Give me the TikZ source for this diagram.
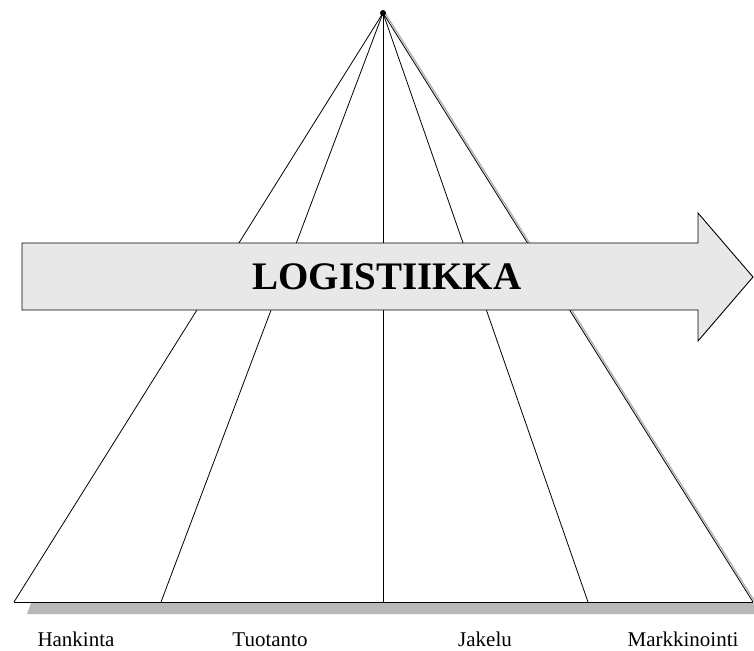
\documentclass[tikz,border=0pt]{standalone}
\usepackage{fontspec}
\setmainfont{Liberation Serif}
\begin{document}
\begin{tikzpicture}
      [
      x=1pt, y=-1pt,
      ray/.style={draw, line width=0.8pt},
      bigarrow/.style={draw, line width=0.9pt, fill=gray!18},
      phase/.style={font=\fontsize{21}{21}\selectfont, anchor=base},
      shade/.style={fill=gray!55}
      ]
      \useasboundingbox (0,0) rectangle (754,650);
      % apex and foot points
      \coordinate (top) at (383,13);
      \coordinate (f1) at (14,602);
      \coordinate (f2) at (161,602);
      \coordinate (f3) at (383,602);
      \coordinate (f4) at (588,602);
      \coordinate (f5) at (753,602);
      % shadows
      \fill [shade] (31,603) -- (754,603) -- (754,614) -- (27,614) -- cycle;
      \draw [gray!60, line width=1.4pt] ([xshift=2pt]top) -- ([xshift=2pt]f5);
      \draw [ray] (top) -- (f1);
      \draw [ray] (top) -- (f2);
      \draw [ray] (top) -- (f3);
      \draw [ray] (top) -- (f4);
      \draw [ray] (top) -- (f5);
      \draw [ray] (f1) -- (f5);
      \fill (top) circle (3pt);
      % the arrow
      \draw [bigarrow] (22,243) -- (698,243) -- (698,213) -- (753,277)
        -- (698,341) -- (698,310) -- (22,310) -- cycle;
      \node (logi) at (387,277) {\fontsize{39}{39}\selectfont\bfseries LOGISTIIKKA};
      % phases
      \node (hank) at (76,646) [phase] {Hankinta};
      \node (tuot) at (270,646) [phase] {Tuotanto};
      \node (jake) at (485,646) [phase] {Jakelu};
      \node (mark) at (683,646) [phase] {Markkinointi};
    \end{tikzpicture}
\end{document}
